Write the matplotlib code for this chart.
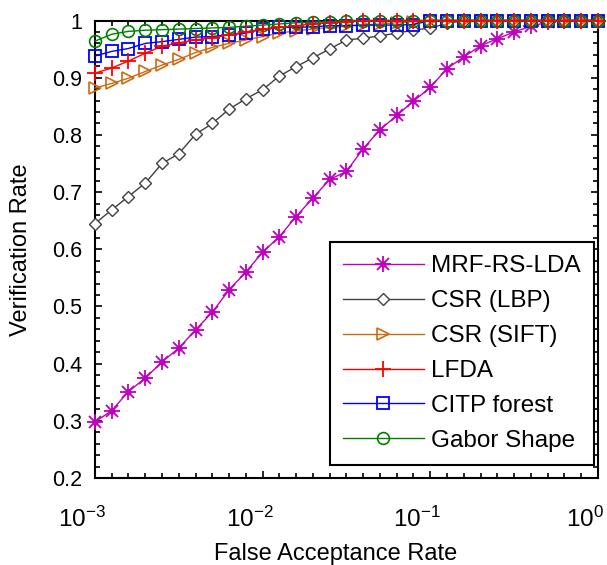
import matplotlib
matplotlib.use('Agg')
import matplotlib.pyplot as plt
import matplotlib.transforms as mtransforms
from matplotlib.ticker import FixedLocator, NullFormatter
from matplotlib.legend_handler import HandlerTuple

plt.rcParams['font.family'] = ['Liberation Sans', 'DejaVu Sans']
plt.rcParams['mathtext.fontset'] = 'custom'
plt.rcParams['mathtext.rm'] = 'Liberation Sans'
plt.rcParams['mathtext.it'] = 'Liberation Sans'

# false acceptance rate sample points (0.1 decade steps)
far = [0.001, 0.00126, 0.00158, 0.002, 0.00251, 0.00316, 0.00398, 0.00501, 0.00631, 0.00794,
       0.01, 0.0126, 0.0158, 0.02, 0.0251, 0.0316, 0.0398, 0.0501, 0.0631, 0.0794,
       0.1, 0.126, 0.158, 0.2, 0.251, 0.316, 0.398, 0.501, 0.631, 0.794, 1.0]

mrf = [0.298, 0.318, 0.351, 0.375, 0.403, 0.427, 0.459, 0.490, 0.529, 0.560,
       0.595, 0.622, 0.657, 0.690, 0.722, 0.736, 0.776, 0.809, 0.834, 0.859,
       0.883, 0.916, 0.936, 0.956, 0.968, 0.980, 0.990, 0.997, 1.0, 1.0, 1.0]
lbp = [0.645, 0.669, 0.692, 0.716, 0.750, 0.767, 0.801, 0.820, 0.845, 0.863,
       0.879, 0.903, 0.919, 0.935, 0.950, 0.966, 0.969, 0.973, 0.978, 0.983,
       0.987, 0.995, 1.0, 1.0, 1.0, 1.0, 1.0, 1.0, 1.0, 1.0, 1.0]
sift = [0.882, 0.890, 0.899, 0.911, 0.922, 0.932, 0.944, 0.953, 0.960, 0.966,
        0.972, 0.978, 0.982, 0.985, 0.988, 0.990, 0.992, 0.994, 0.996, 0.998,
        1.0, 1.0, 1.0, 1.0, 1.0, 1.0, 1.0, 1.0, 1.0, 1.0, 1.0]
lfda = [0.908, 0.917, 0.929, 0.943, 0.955, 0.961, 0.966, 0.970, 0.975, 0.980,
        0.985, 0.988, 0.991, 0.994, 0.996, 0.998, 1.0, 1.0, 1.0, 1.0,
        1.0, 1.0, 1.0, 1.0, 1.0, 1.0, 1.0, 1.0, 1.0, 1.0, 1.0]
citp = [0.938, 0.946, 0.951, 0.960, 0.963, 0.967, 0.971, 0.972, 0.975, 0.978,
        0.985, 0.988, 0.988, 0.989, 0.991, 0.991, 0.992, 0.992, 0.992, 0.993,
        1.0, 1.0, 1.0, 1.0, 1.0, 1.0, 1.0, 1.0, 1.0, 1.0, 1.0]
gabor = [0.964, 0.976, 0.981, 0.983, 0.984, 0.985, 0.986, 0.987, 0.988, 0.990,
         0.992, 0.994, 0.996, 0.997, 0.998, 1.0, 1.0, 1.0, 1.0, 1.0,
         1.0, 1.0, 1.0, 1.0, 1.0, 1.0, 1.0, 1.0, 1.0, 1.0, 1.0]

x_major = [0.001, 0.01, 0.1, 1.0]
x_labels = [r'$\mathregular{10^{-3}}$', r'$\mathregular{10^{-2}}$',
            r'$\mathregular{10^{-1}}$', r'$\mathregular{10^{0}}$']
y_major = [0.2, 0.3, 0.4, 0.5, 0.6, 0.7, 0.8, 0.9, 1.0]
y_labels = ['0.2', '0.3', '0.4', '0.5', '0.6', '0.7', '0.8', '0.9', '1']
y_minor = [0.2 + 0.02 * i for i in range(41)]

fig = plt.figure(figsize=(6.07, 5.65), dpi=100)
ax = fig.add_axes([0.1565, 0.154, 0.8285, 0.8097])

magenta = '#BF00BF'
orange = '#CC6A10'
green = '#008000'

# MRF-RS-LDA: matlab style asterisk = plus + cross + dot
m1, = ax.plot(far, mrf, color=magenta, lw=1.0, marker='+', ms=12, mew=1.3, zorder=3)
m2, = ax.plot(far, mrf, ls='none', color=magenta, marker='x', ms=8, mew=1.3, zorder=3)
m3, = ax.plot(far, mrf, ls='none', color=magenta, marker='o', ms=3.5, zorder=3)
l_lbp, = ax.plot(far, lbp, color='#404040', lw=1.0, marker='D', ms=6.3, mew=1.0,
                 mfc='white', mec='#404040', zorder=3)
l_sift, = ax.plot(far, sift, color=orange, lw=1.0, marker='>', ms=8.5, mew=1.2,
                  mfc='none', zorder=4)
l_citp, = ax.plot(far, citp, color='blue', lw=1.0, marker='s', ms=8.5, mew=1.3,
                  mfc='none', zorder=5)
l_gabor, = ax.plot(far, gabor, color=green, lw=1.0, marker='o', ms=8.5, mew=1.2,
                   mfc='none', zorder=6)
l_lfda, = ax.plot(far, lfda, color='red', lw=1.0, marker='+', ms=11, mew=1.3, zorder=7)
for ln in [m1, m2, m3, l_lbp, l_sift, l_citp, l_gabor, l_lfda]:
    ln.set_clip_on(False)

ax.set_xscale('log')
ax.set_xlim(0.001, 1.0)
ax.set_ylim(0.2, 1.0)
ax.xaxis.set_major_locator(FixedLocator(x_major))
ax.xaxis.set_minor_locator(FixedLocator(far))
ax.xaxis.set_minor_formatter(NullFormatter())
ax.set_xticklabels(x_labels)
ax.yaxis.set_major_locator(FixedLocator(y_major))
ax.yaxis.set_minor_locator(FixedLocator(y_minor))
ax.set_yticklabels(y_labels)

ax.tick_params(which='both', direction='in', top=True, right=True, width=1.2,
               labelsize=15.5, colors='black')
ax.tick_params(which='major', length=5)
ax.tick_params(which='minor', length=3.5)
ax.tick_params(axis='x', pad=21, labelsize=17.5)
ax.tick_params(axis='y', pad=9)
for s in ax.spines.values():
    s.set_linewidth(1.5)
    s.set_zorder(2)

off = mtransforms.ScaledTranslation(-13 / 100, 0, fig.dpi_scale_trans)
for lab in ax.get_xticklabels():
    lab.set_transform(lab.get_transform() + off)

ax.set_xlabel('False Acceptance Rate', fontsize=17)
ax.set_ylabel('Verification Rate', fontsize=17)
ax.xaxis.set_label_coords(0.479, -0.142)
ax.yaxis.set_label_coords(-0.125, 0.5)

leg = ax.legend([(m1, m2, m3), l_lbp, l_sift, l_lfda, l_citp, l_gabor],
                ['MRF-RS-LDA', 'CSR (LBP)', 'CSR (SIFT)', 'LFDA', 'CITP forest', 'Gabor Shape'],
                handler_map={tuple: HandlerTuple(ndivide=1)},
                loc='lower right', bbox_to_anchor=(0.992, 0.028), borderaxespad=0,
                fontsize=17.5, numpoints=1, handlelength=3.3, handletextpad=0.3,
                labelspacing=0.53, borderpad=0.55, fancybox=False, framealpha=1,
                edgecolor='black')
leg.get_frame().set_linewidth(1.5)
leg.set_zorder(10)

fig.savefig('out.png', dpi=100)
